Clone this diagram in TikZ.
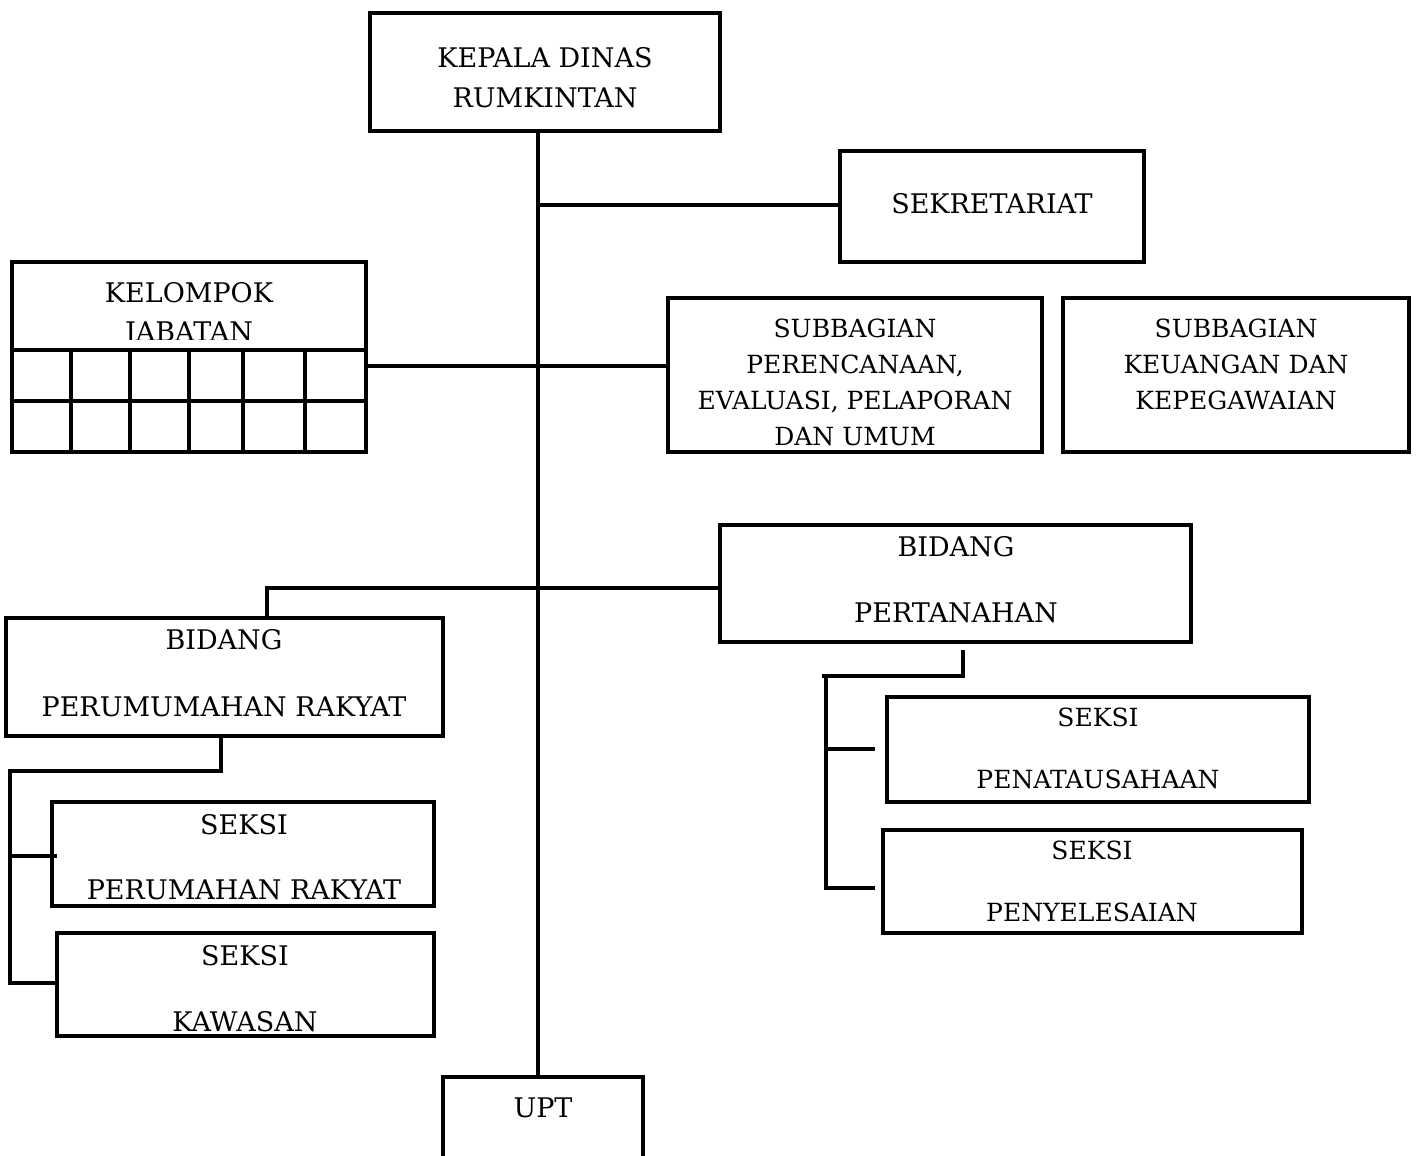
\documentclass[tikz,border=0pt]{standalone}
\usepackage{fontspec}
\setmainfont{DejaVu Serif}
\begin{document}
\begin{tikzpicture}[x=1pt,y=-1pt,
  box/.style={draw, line width=3.8pt, inner sep=0pt, outer sep=0pt, anchor=north west},
  big/.style={inner sep=0pt, font=\fontsize{27}{32}\selectfont, text height=19.5pt, text depth=0pt},
  sml/.style={inner sep=0pt, font=\fontsize{25}{30}\selectfont, text height=18pt, text depth=0pt},
  conn/.style={line width=3.8pt},
  grid/.style={line width=3.8pt}]
\useasboundingbox (0,0) rectangle (1417,1156);

% boxes
\node[box, minimum width=350pt, minimum height=118pt] (kepala) at (370,13) {};
\node[box, minimum width=304pt, minimum height=111pt] (sekr) at (840,151) {};
\node[box, minimum width=354pt, minimum height=190pt] (kel) at (12,262) {};
\node[box, minimum width=374pt, minimum height=154pt] (sub1) at (668,298) {};
\node[box, minimum width=346pt, minimum height=154pt] (sub2) at (1063,298) {};
\node[box, minimum width=471pt, minimum height=117pt] (bpt) at (720,525) {};
\node[box, minimum width=437pt, minimum height=118pt] (bpr) at (6,618) {};
\node[box, minimum width=382pt, minimum height=104pt] (skp) at (52,802) {};
\node[box, minimum width=377pt, minimum height=103pt] (kaw) at (57,933) {};
\node[box, minimum width=422pt, minimum height=105pt] (pen) at (887,697) {};
\node[box, minimum width=419pt, minimum height=103pt] (pny) at (883,830) {};
\node[box, minimum width=200pt, minimum height=130pt] (upt) at (443,1077) {};

% texts
\node[big] (t1) at (545,58) {KEPALA DINAS};
\node[big] (t2) at (545,98) {RUMKINTAN};
\node[big] (t3) at (992,204) {SEKRETARIAT};
\node[big] (t4) at (189,293) {KELOMPOK};
\node[big] (t5) at (189,332) {JABATAN};
\node[sml] (t6) at (855,328) {SUBBAGIAN};
\node[sml] (t7) at (855,364) {PERENCANAAN,};
\node[sml] (t8) at (855,400) {EVALUASI, PELAPORAN};
\node[sml] (t9) at (855,436) {DAN UMUM};
\node[sml] (t10) at (1236,328) {SUBBAGIAN};
\node[sml] (t11) at (1236,364) {KEUANGAN DAN};
\node[sml] (t12) at (1236,400) {KEPEGAWAIAN};
\node[big] (t13) at (956,547) {BIDANG};
\node[big] (t14) at (956,613) {PERTANAHAN};
\node[big] (t15) at (224,640) {BIDANG};
\node[big] (t16) at (224,707) {PERUMUMAHAN RAKYAT};
\node[big] (t17) at (244,825) {SEKSI};
\node[big] (t18) at (244,890) {PERUMAHAN RAKYAT};
\node[big] (t19) at (245,956) {SEKSI};
\node[big] (t20) at (245,1022) {KAWASAN};
\node[sml] (t21) at (1098,717) {SEKSI};
\node[sml] (t22) at (1098,779) {PENATAUSAHAAN};
\node[sml] (t23) at (1092,850) {SEKSI};
\node[sml] (t24) at (1092,912) {PENYELESAIAN};
\node[big] (t25) at (543,1108) {UPT};

% kelompok jabatan grid
\fill[white] (15,340) rectangle (363,350);
\draw[grid] (12,350) -- (366,350) (12,401) -- (366,401);
\foreach \gx in {71,130,189,243,305} \draw[grid] (\gx,350) -- (\gx,452);

% connectors
\coordinate (tr) at (538,0);
\coordinate (kj) at (0,366);
\coordinate (bj) at (267,588);
\coordinate (ls) at (221,771);
\coordinate (lj) at (10,771);
\coordinate (lb1) at (10,856);
\coordinate (le1) at (57,856);
\coordinate (lb2) at (10,983);
\coordinate (rtop) at (963,650);
\coordinate (rj) at (963,676);
\coordinate (rl) at (822,676);
\coordinate (rv) at (826,676);
\coordinate (rb1) at (826,749);
\coordinate (re1) at (875,749);
\coordinate (rb2) at (826,888);
\coordinate (re2) at (875,888);

\draw[conn] (kepala.south -| tr) -- (upt.north -| tr);
\draw[conn] (tr |- 0,205) -- (sekr.west |- 0,205);
\draw[conn] (kel.east |- kj) -- (sub1.west |- kj);
\draw[conn] (bpt.west |- bj) -- (bj) -- (bj |- bpr.north);
\draw[conn] (ls |- bpr.south) -- (ls) -- (lj) -- (lb2) -- (kaw.west |- lb2);
\draw[conn] (lb1) -- (le1);
\draw[conn] (rtop) -- (rj) -- (rl);
\draw[conn] (rv) -- (rb2) -- (re2);
\draw[conn] (rb1) -- (re1);
\end{tikzpicture}
\end{document}
